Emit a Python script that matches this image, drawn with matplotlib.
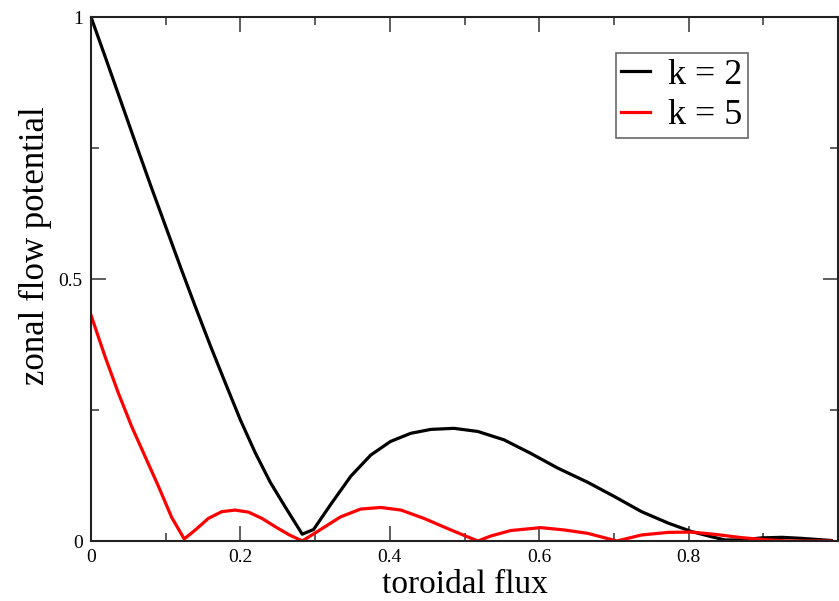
import numpy as np
import matplotlib
matplotlib.use("Agg")
import matplotlib.pyplot as plt
from matplotlib.ticker import MultipleLocator

# k = 2 curve
x_k2 = [0.0, 0.02, 0.04, 0.06, 0.08, 0.10, 0.12, 0.14, 0.16, 0.18,
        0.20, 0.22, 0.24, 0.26, 0.2828, 0.298, 0.321, 0.348, 0.3745, 0.401,
        0.428, 0.455, 0.486, 0.518, 0.553, 0.589, 0.625, 0.665, 0.701, 0.737,
        0.773, 0.804, 0.831, 0.849, 0.871, 0.898, 0.925, 0.952, 0.991]
y_k2 = [1.0, 0.920, 0.839, 0.758, 0.678, 0.600, 0.522, 0.446, 0.372, 0.301,
        0.231, 0.168, 0.112, 0.065, 0.013, 0.022, 0.070, 0.124, 0.164, 0.190,
        0.2055, 0.213, 0.215, 0.209, 0.193, 0.167, 0.139, 0.112, 0.0846, 0.056,
        0.034, 0.018, 0.008, 0.002, 0.002, 0.006, 0.007, 0.005, 0.001]

# k = 5 curve
x_k5 = [0.0, 0.0188, 0.0367, 0.0546, 0.0725, 0.0904, 0.108, 0.1248, 0.1396, 0.157,
        0.175, 0.193, 0.211, 0.229, 0.247, 0.265, 0.2828, 0.303, 0.334, 0.361,
        0.388, 0.415, 0.446, 0.477, 0.504, 0.518, 0.535, 0.562, 0.602, 0.634,
        0.665, 0.704, 0.737, 0.773, 0.804, 0.835, 0.871, 0.907, 0.934, 0.991]
y_k5 = [0.431, 0.352, 0.282, 0.218, 0.161, 0.104, 0.045, 0.004, 0.021, 0.043,
        0.056, 0.059, 0.055, 0.043, 0.027, 0.012, 0.0, 0.018, 0.046, 0.061,
        0.064, 0.059, 0.043, 0.024, 0.008, 0.0, 0.0095, 0.020, 0.0255, 0.021,
        0.0146, 0.0, 0.0115, 0.0165, 0.017, 0.0127, 0.0064, 0.002, 0.0, 0.0]

plt.rcParams['font.family'] = ['Liberation Serif', 'DejaVu Serif']

fig = plt.figure(figsize=(8.39, 6.01), dpi=100)
ax = fig.add_axes([91 / 839, 60 / 601, 747 / 839, 524 / 601])

ax.plot(x_k2, y_k2, color='black', lw=2.3, label='k = 2')
ax.plot(x_k5, y_k5, color='red', lw=2.3, label='k = 5')

ax.set_xlim(0, 1.0)
ax.set_ylim(0, 1)
ax.xaxis.set_minor_locator(MultipleLocator(0.1))
ax.yaxis.set_minor_locator(MultipleLocator(0.25))
ax.set_xticks([0, 0.2, 0.4, 0.6, 0.8])
ax.set_xticklabels(['0', '0.2', '0.4', '0.6', '0.8'])
ax.set_yticks([0, 0.5, 1])
ax.set_yticklabels(['0', '0.5', '1'])

ax.tick_params(which='both', direction='in', top=True, right=True,
               labelsize=14, width=1.1, color='#333333')
ax.tick_params(which='major', length=11, pad=6)
ax.tick_params(which='minor', length=6)
for sp in ax.spines.values():
    sp.set_linewidth(1.5)
    sp.set_color('#222222')

fig.text(465 / 839, 1 - 593 / 601, 'toroidal flux', fontsize=24,
         ha='center', va='baseline')
fig.text(35 / 839, 1 - 246 / 601, 'zonal flow potential', fontsize=25,
         rotation=90, ha='center', va='center')

leg = ax.legend(loc='upper left', bbox_to_anchor=(616 / 839, 1 - 53 / 601),
                bbox_transform=fig.transFigure, fontsize=26, frameon=True,
                fancybox=False, handlelength=0.8, handletextpad=0.5,
                borderpad=0.15, labelspacing=0.2, borderaxespad=0)
leg.get_frame().set_edgecolor('#444444')
leg.get_frame().set_linewidth(1.2)

fig.savefig('out.png', dpi=100)
